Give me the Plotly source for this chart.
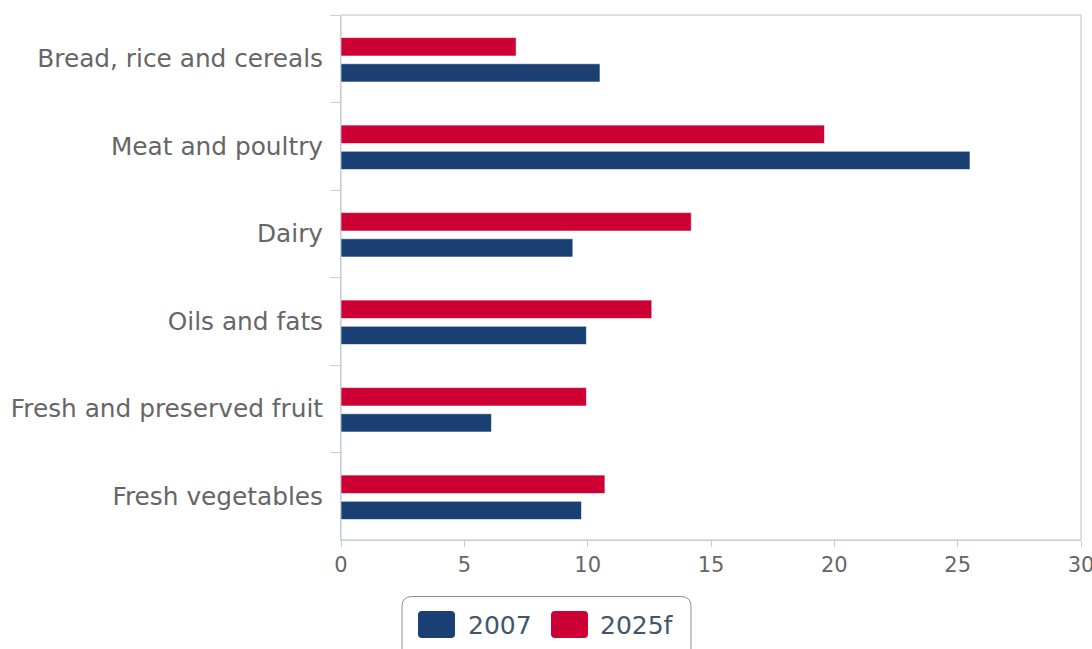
import plotly.graph_objects as go

categories = ["Bread, rice and cereals", "Meat and poultry", "Dairy", "Oils and fats",
              "Fresh and preserved fruit", "Fresh vegetables"]
series_names = ["2007", "2025f"]
values_2007 = [10.5, 25.5, 9.4, 9.95, 6.1, 9.75]
values_2025f = [7.1, 19.6, 14.2, 12.6, 9.95, 10.7]
x_ticks = [0, 5, 10, 15, 20, 25, 30]

BLUE = "#1a3f72"
RED = "#cc0033"
FONT = "DejaVu Sans"

W, H = 1092, 649
ML, MR, MT, MB = 341, 11, 15, 109
PW, PH = W - ML - MR, H - MT - MB


def px(x):
    return (x - ML) / PW


def py(y):
    return (H - MB - y) / PH


def rrect(x0, y0, x1, y1, r):
    rx = r / PW
    ry = r / PH
    X0, X1 = px(x0), px(x1)
    Y0, Y1 = py(y0), py(y1)  # Y0 top (larger), Y1 bottom
    return (f"M {X0 + rx},{Y0} L {X1 - rx},{Y0} Q {X1},{Y0} {X1},{Y0 - ry} "
            f"L {X1},{Y1 + ry} Q {X1},{Y1} {X1 - rx},{Y1} L {X0 + rx},{Y1} "
            f"Q {X0},{Y1} {X0},{Y1 + ry} L {X0},{Y0 - ry} Q {X0},{Y0} {X0 + rx},{Y0} Z")


fig = go.Figure()
fig.add_trace(go.Bar(y=categories, x=values_2025f, name=series_names[1], orientation="h",
                     offset=-0.242, width=0.211,
                     marker=dict(color=RED, line=dict(color="rgba(255,255,255,0.6)", width=1)),
                     showlegend=False))
fig.add_trace(go.Bar(y=categories, x=values_2007, name=series_names[0], orientation="h",
                     offset=0.057, width=0.209,
                     marker=dict(color=BLUE, line=dict(color="rgba(255,255,255,0.6)", width=1)),
                     showlegend=False))

shapes = [dict(type="rect", xref="paper", yref="paper", x0=0, x1=1, y0=0, y1=1,
               line=dict(color="#c0c0c0", width=1), layer="below")]
annotations = []

# custom legend
shapes.append(dict(type="path", xref="paper", yref="paper", path=rrect(402, 596.5, 691, 665, 10),
                   line=dict(color="#909090", width=1), fillcolor="white"))
legend_items = [(series_names[0], BLUE, 418, 466), (series_names[1], RED, 551, 598)]
for name, col, sx, tx in legend_items:
    shapes.append(dict(type="path", xref="paper", yref="paper", path=rrect(sx, 611, sx + 37, 638, 4),
                       line=dict(color=col, width=0), fillcolor=col))
    annotations.append(dict(xref="paper", yref="paper", x=px(tx), y=py(625), text=name,
                            showarrow=False, xanchor="left", yanchor="middle",
                            font=dict(family=FONT, size=25, color="#3E576F")))

fig.update_layout(
    width=W, height=H,
    margin=dict(l=ML, r=MR, t=MT, b=MB),
    paper_bgcolor="white", plot_bgcolor="white",
    barmode="group",
    shapes=shapes, annotations=annotations,
    showlegend=False,
    xaxis=dict(range=[0, 30], tickvals=x_ticks, ticks="outside", ticklen=6, tickcolor="#C0D0E0",
               showline=True, linecolor="#C0D0E0", linewidth=1, showgrid=False, zeroline=False,
               ticklabeloverflow="allow", automargin=False,
               tickfont=dict(family=FONT, size=21, color="#666666"), fixedrange=True),
    yaxis=dict(autorange="reversed", tickson="boundaries", ticks="outside", ticklen=10,
               tickcolor="#C0D0E0", showline=True, linecolor="#C0D0E0", linewidth=1,
               showgrid=False, zeroline=False, automargin=False,
               tickfont=dict(family=FONT, size=24.8, color="#666666"), ticklabelstandoff=12),
)

fig.write_html("out.html")
